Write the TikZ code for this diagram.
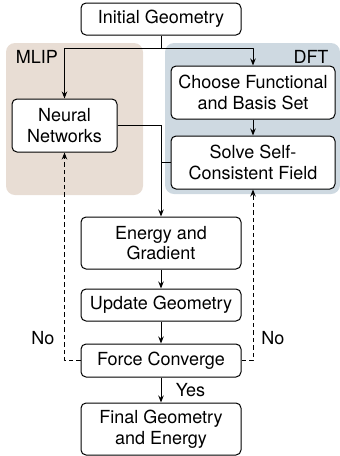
\documentclass[tikz,border=0pt]{standalone}
\usepackage{fontspec}
\setmainfont{TeX Gyre Heros}
\usetikzlibrary{positioning, arrows.meta}
\definecolor{mlipbg}{HTML}{E8DDD4}
\definecolor{dftbg}{HTML}{CED9E1}
\tikzset{
	stepbox/.style={draw, line width=1pt, rounded corners=5pt, fill=white, align=center, inner sep=2pt},
	flow/.style={line width=1pt, -{Stealth[length=7pt, width=5.5pt]}},
	back/.style={flow, dashed, dash pattern=on 4.5pt off 3pt}
}
\begin{document}
\begin{tikzpicture}[x=1pt, y=-1pt, font=\fontsize{18}{20.5}\selectfont, line join=round]
	\useasboundingbox (0,0) rectangle (340,456);
	% shaded groups
	\fill[mlipbg, rounded corners=9pt] (6,43) rectangle (143,195);
	\fill[dftbg, rounded corners=9pt] (165,43) rectangle (340,194);
	\node at (37,57) {MLIP};
	\node at (311,57) {DFT};
	% boxes
	\node[stepbox, minimum width=160pt, minimum height=32pt] (init) at (161,19) {Initial Geometry};
	\node[stepbox, minimum width=105pt, minimum height=53pt] (nn) at (64.5,125.5) {Neural\\Networks};
	\node[stepbox, minimum width=164pt, minimum height=53pt] (func) at (253,92.5) {Choose Functional\\and Basis Set};
	\node[stepbox, minimum width=164pt, minimum height=53pt] (scf) at (253,162.5) {Solve Self-\\Consistent Field};
	\node[stepbox, minimum width=160pt, minimum height=52pt] (energy) at (161,243) {Energy and\\Gradient};
	\node[stepbox, minimum width=160pt, minimum height=32pt] (update) at (161,305) {Update Geometry};
	\node[stepbox, minimum width=160pt, minimum height=33pt] (force) at (161,360.5) {Force Converge};
	\node[stepbox, minimum width=160pt, minimum height=52pt] (final) at (161,429) {Final Geometry\\and Energy};
	% split after the start
	\path (init.south) ++(0,13) coordinate (split);
	\draw[line width=1pt] (init.south) -- (split);
	\draw[flow] (split) -| (nn.north);
	\draw[flow] (split) -| (func.north);
	\draw[flow] (func) -- (scf);
	% merge into the energy step
	\draw[line width=1pt] (nn.east) -| (energy.north |- scf.west) -- (scf.west);
	\draw[flow] (nn.east) -| (energy.north);
	\draw[flow] (energy) -- (update);
	\draw[flow] (update) -- (force);
	\draw[flow] (force) -- node[right=11pt]{Yes} (final);
	% not converged
	\draw[back] (force.west) -| (nn.south);
	\draw[back] (force.east) -| (scf.south);
	\node at (43,338) {No};
	\node at (273,338) {No};
\end{tikzpicture}
\end{document}
